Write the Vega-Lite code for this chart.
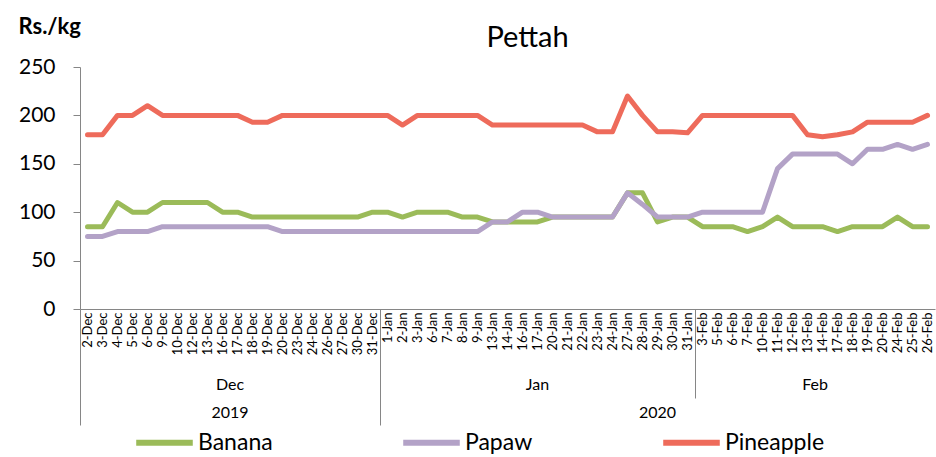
{
  "$schema": "https://vega.github.io/schema/vega-lite/v6.json",
  "width": 855,
  "height": 242,
  "autosize": {"type": "none"},
  "padding": {"left": 80, "top": 67, "right": 1, "bottom": 148},
  "background": "white",
  "config": {"font": "Lato", "view": {"stroke": null}},
  "title": {"text": "Pettah", "fontSize": 29, "fontWeight": "normal", "font": "Lato", "anchor": "middle", "dx": 20, "dy": 54, "offset": 16, "color": "black"},
  "data": {"values": [
    {"date": "2-Dec", "Banana": 85, "Papaw": 75, "Pineapple": 180},
    {"date": "3-Dec", "Banana": 85, "Papaw": 75, "Pineapple": 180},
    {"date": "4-Dec", "Banana": 110, "Papaw": 80, "Pineapple": 200},
    {"date": "5-Dec", "Banana": 100, "Papaw": 80, "Pineapple": 200},
    {"date": "6-Dec", "Banana": 100, "Papaw": 80, "Pineapple": 210},
    {"date": "9-Dec", "Banana": 110, "Papaw": 85, "Pineapple": 200},
    {"date": "10-Dec", "Banana": 110, "Papaw": 85, "Pineapple": 200},
    {"date": "12-Dec", "Banana": 110, "Papaw": 85, "Pineapple": 200},
    {"date": "13-Dec", "Banana": 110, "Papaw": 85, "Pineapple": 200},
    {"date": "16-Dec", "Banana": 100, "Papaw": 85, "Pineapple": 200},
    {"date": "17-Dec", "Banana": 100, "Papaw": 85, "Pineapple": 200},
    {"date": "18-Dec", "Banana": 95, "Papaw": 85, "Pineapple": 193},
    {"date": "19-Dec", "Banana": 95, "Papaw": 85, "Pineapple": 193},
    {"date": "20-Dec", "Banana": 95, "Papaw": 80, "Pineapple": 200},
    {"date": "23-Dec", "Banana": 95, "Papaw": 80, "Pineapple": 200},
    {"date": "24-Dec", "Banana": 95, "Papaw": 80, "Pineapple": 200},
    {"date": "26-Dec", "Banana": 95, "Papaw": 80, "Pineapple": 200},
    {"date": "27-Dec", "Banana": 95, "Papaw": 80, "Pineapple": 200},
    {"date": "30-Dec", "Banana": 95, "Papaw": 80, "Pineapple": 200},
    {"date": "31-Dec", "Banana": 100, "Papaw": 80, "Pineapple": 200},
    {"date": "1-Jan", "Banana": 100, "Papaw": 80, "Pineapple": 200},
    {"date": "2-Jan", "Banana": 95, "Papaw": 80, "Pineapple": 190},
    {"date": "3-Jan", "Banana": 100, "Papaw": 80, "Pineapple": 200},
    {"date": "6-Jan", "Banana": 100, "Papaw": 80, "Pineapple": 200},
    {"date": "7-Jan", "Banana": 100, "Papaw": 80, "Pineapple": 200},
    {"date": "8-Jan", "Banana": 95, "Papaw": 80, "Pineapple": 200},
    {"date": "9-Jan", "Banana": 95, "Papaw": 80, "Pineapple": 200},
    {"date": "13-Jan", "Banana": 90, "Papaw": 90, "Pineapple": 190},
    {"date": "14-Jan", "Banana": 90, "Papaw": 90, "Pineapple": 190},
    {"date": "16-Jan", "Banana": 90, "Papaw": 100, "Pineapple": 190},
    {"date": "17-Jan", "Banana": 90, "Papaw": 100, "Pineapple": 190},
    {"date": "20-Jan", "Banana": 95, "Papaw": 95, "Pineapple": 190},
    {"date": "21-Jan", "Banana": 95, "Papaw": 95, "Pineapple": 190},
    {"date": "22-Jan", "Banana": 95, "Papaw": 95, "Pineapple": 190},
    {"date": "23-Jan", "Banana": 95, "Papaw": 95, "Pineapple": 183},
    {"date": "24-Jan", "Banana": 95, "Papaw": 95, "Pineapple": 183},
    {"date": "27-Jan", "Banana": 120, "Papaw": 120, "Pineapple": 220},
    {"date": "28-Jan", "Banana": 120, "Papaw": 108, "Pineapple": 200},
    {"date": "29-Jan", "Banana": 90, "Papaw": 95, "Pineapple": 183},
    {"date": "30-Jan", "Banana": 95, "Papaw": 95, "Pineapple": 183},
    {"date": "31-Jan", "Banana": 95, "Papaw": 95, "Pineapple": 182},
    {"date": "3-Feb", "Banana": 85, "Papaw": 100, "Pineapple": 200},
    {"date": "5-Feb", "Banana": 85, "Papaw": 100, "Pineapple": 200},
    {"date": "6-Feb", "Banana": 85, "Papaw": 100, "Pineapple": 200},
    {"date": "7-Feb", "Banana": 80, "Papaw": 100, "Pineapple": 200},
    {"date": "10-Feb", "Banana": 85, "Papaw": 100, "Pineapple": 200},
    {"date": "11-Feb", "Banana": 95, "Papaw": 145, "Pineapple": 200},
    {"date": "12-Feb", "Banana": 85, "Papaw": 160, "Pineapple": 200},
    {"date": "13-Feb", "Banana": 85, "Papaw": 160, "Pineapple": 180},
    {"date": "14-Feb", "Banana": 85, "Papaw": 160, "Pineapple": 178},
    {"date": "17-Feb", "Banana": 80, "Papaw": 160, "Pineapple": 180},
    {"date": "18-Feb", "Banana": 85, "Papaw": 150, "Pineapple": 183},
    {"date": "19-Feb", "Banana": 85, "Papaw": 165, "Pineapple": 193},
    {"date": "20-Feb", "Banana": 85, "Papaw": 165, "Pineapple": 193},
    {"date": "24-Feb", "Banana": 95, "Papaw": 170, "Pineapple": 193},
    {"date": "25-Feb", "Banana": 85, "Papaw": 165, "Pineapple": 193},
    {"date": "26-Feb", "Banana": 85, "Papaw": 170, "Pineapple": 200}
  ]},
  "transform": [{"fold": ["Banana", "Papaw", "Pineapple"], "as": ["fruit", "price"]}],
  "layer": [
    {
      "mark": {"type": "line", "strokeWidth": 5, "strokeJoin": "round", "strokeCap": "round"},
      "encoding": {
        "x": {"field": "date", "type": "nominal", "sort": null,
          "scale": {"type": "band", "paddingInner": 0, "paddingOuter": 0},
          "axis": {"orient": "bottom", "title": null, "labelAngle": -90, "labelAlign": "right", "labelBaseline": "middle", "labelFontSize": 13, "labelPadding": 3, "ticks": false, "domainColor": "#868686", "labelColor": "black", "labelOverlap": false}},
        "y": {"field": "price", "type": "quantitative", "scale": {"domain": [0, 250]},
          "axis": {"title": "Rs./kg", "titleAngle": 0, "titleAlign": "left", "titleBaseline": "alphabetic", "titleX": -62, "titleY": -34, "titleFontSize": 22, "titleFontWeight": "bold", "titleColor": "black", "values": [0, 50, 100, 150, 200, 250], "grid": false, "tickSize": 7, "tickColor": "#868686", "domainColor": "#868686", "labelPadding": 18, "labelFontSize": 21, "labelColor": "black"}},
        "color": {"field": "fruit", "type": "nominal",
          "scale": {"domain": ["Banana", "Papaw", "Pineapple"], "range": ["#9BBB59", "#B3A2C7", "#EE6B5B"]},
          "legend": {"title": null, "orient": "none", "direction": "horizontal", "legendX": 53, "legendY": 344, "columnPadding": 118, "labelFontSize": 23, "labelColor": "black", "symbolType": "stroke", "symbolSize": 3200, "symbolStrokeWidth": 6, "labelOffset": 2, "padding": 0}}
      }
    },
    {
      "mark": {"type": "point", "opacity": 0},
      "encoding": {
        "x": {"field": "date", "type": "nominal", "sort": null,
          "scale": {"type": "band", "paddingInner": 0, "paddingOuter": 0},
          "axis": {"orient": "bottom", "title": null, "values": ["16-Dec", "17-Jan", "13-Feb"], "labelExpr": "datum.value == '16-Dec' ? 'Dec' : datum.value == '17-Jan' ? 'Jan' : 'Feb'", "labelAngle": 0, "labelAlign": "center", "labelBaseline": "top", "labelOffset": {"condition": {"test": "datum.value != '17-Jan'", "value": 7.5}, "value": 0}, "domain": false, "ticks": false, "tickSize": 0, "labelPadding": 0, "offset": 67, "labelFontSize": 16, "labelColor": "black"}}
      }
    },
    {
      "mark": {"type": "point", "opacity": 0},
      "encoding": {
        "x": {"field": "date", "type": "nominal", "sort": null,
          "scale": {"type": "band", "paddingInner": 0, "paddingOuter": 0},
          "axis": {"orient": "bottom", "title": null, "values": ["16-Dec", "29-Jan"], "labelExpr": "datum.value == '16-Dec' ? '2019' : '2020'", "labelAngle": 0, "labelAlign": "center", "labelBaseline": "top", "labelOffset": {"condition": {"test": "datum.value == '16-Dec'", "value": 7.5}, "value": 0}, "domain": false, "ticks": false, "tickSize": 0, "labelPadding": 0, "offset": 95, "labelFontSize": 16, "labelColor": "black"}}
      }
    },
    {
      "mark": {"type": "point", "opacity": 0},
      "encoding": {
        "x": {"field": "date", "type": "nominal", "sort": null,
          "scale": {"type": "band", "paddingInner": 0, "paddingOuter": 0},
          "axis": {"orient": "bottom", "title": null, "values": ["2-Dec", "1-Jan", "3-Feb"], "bandPosition": 0, "labels": false, "domain": false, "ticks": true, "tickColor": "#868686", "tickWidth": 1, "tickSize": {"condition": {"test": "datum.value == '3-Feb'", "value": 89}, "value": 116}}}
      }
    }
  ],
  "resolve": {"axis": {"x": "independent"}}
}
